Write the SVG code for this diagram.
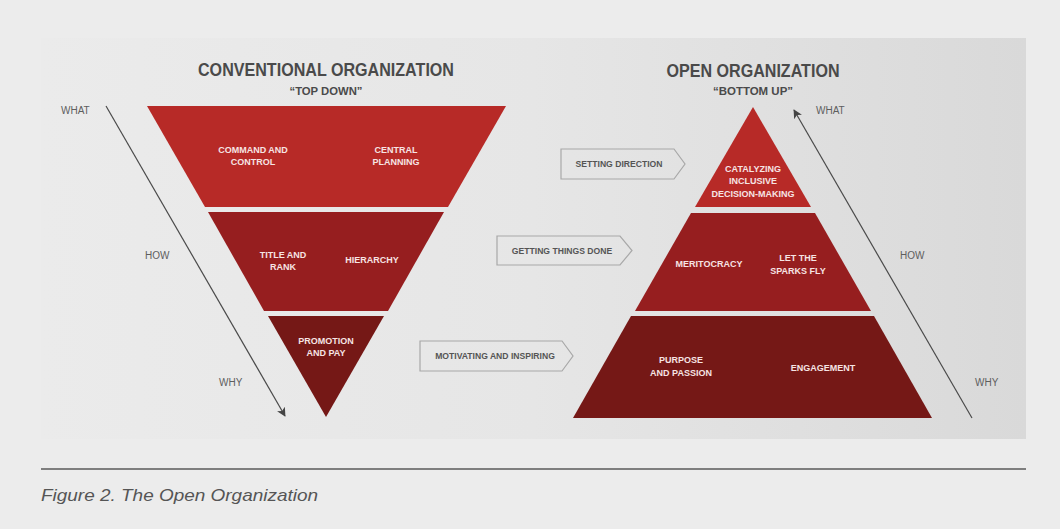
<svg xmlns="http://www.w3.org/2000/svg" width="1060" height="529" viewBox="0 0 1060 529">
<defs>
<linearGradient id="panel" x1="0" y1="0" x2="1" y2="0">
<stop offset="0" stop-color="#ebebeb"/>
<stop offset="0.5" stop-color="#e6e6e6"/>
<stop offset="1" stop-color="#d9d9d9"/>
</linearGradient>
<linearGradient id="div" x1="0" y1="0" x2="0" y2="1">
<stop offset="0" stop-color="#ffffff" stop-opacity="0"/>
<stop offset="0.5" stop-color="#ffffff" stop-opacity="0.55"/>
<stop offset="1" stop-color="#ffffff" stop-opacity="0"/>
</linearGradient>
<marker id="ah" viewBox="0 0 10 10" refX="9" refY="5" markerWidth="9" markerHeight="9" markerUnits="userSpaceOnUse" orient="auto">
<path d="M0,0 L10,5 L0,10 L2.5,5 Z" fill="#444"/>
</marker>
</defs>
<style>
.title{font-family:"Liberation Sans",Arial,sans-serif;font-weight:bold;fill:#4a4a4a;text-anchor:middle}
.sub{font-family:"Liberation Sans",Arial,sans-serif;font-weight:bold;fill:#4a4a4a;text-anchor:middle;font-size:11px}
.band{font-family:"Liberation Sans",Arial,sans-serif;font-weight:bold;fill:#f6e4e4;text-anchor:middle;font-size:9px}
.side{font-family:"Liberation Sans",Arial,sans-serif;fill:#5e5e5e;font-size:10px}
.tag{font-family:"Liberation Sans",Arial,sans-serif;font-weight:bold;fill:#555;text-anchor:middle;font-size:8.6px}
.box{fill:none;stroke:#a8a8a8;stroke-width:1.2}
.dv{stroke:url(#div);stroke-width:1.2}
.c1{fill:#b72a27}.c2{fill:#961e1f}.c3{fill:#751816}
.arr{stroke:#4a4a4a;stroke-width:1.2;fill:none}
</style>
<rect x="0" y="0" width="1060" height="529" fill="#ececec"/>
<rect x="41" y="38" width="985" height="401" fill="url(#panel)"/>

<g id="conventional-title">
<text class="title" x="326" y="76" font-size="18" textLength="256" lengthAdjust="spacingAndGlyphs">CONVENTIONAL ORGANIZATION</text>
<text class="sub" x="326" y="95" textLength="73" lengthAdjust="spacingAndGlyphs">“TOP DOWN”</text>
</g>
<g id="conv-top">
<polygon class="c1" points="147,106 506,106 448,207 205,207"/>
<line class="dv" x1="326.5" y1="126" x2="326.5" y2="198"/>
<text class="band" x="253" y="152.5">COMMAND AND</text>
<text class="band" x="253" y="164.5">CONTROL</text>
<text class="band" x="396" y="152.5">CENTRAL</text>
<text class="band" x="396" y="164.5">PLANNING</text>
</g>
<g id="conv-mid">
<polygon class="c2" points="208,212 444,212 388,311 264,311"/>
<line class="dv" x1="326.5" y1="230" x2="326.5" y2="302"/>
<text class="band" x="283" y="257.5">TITLE AND</text>
<text class="band" x="283" y="269.5">RANK</text>
<text class="band" x="372" y="262.5">HIERARCHY</text>
</g>
<g id="conv-bottom">
<polygon class="c3" points="268,316 384,316 326,417"/>
<text class="band" x="326" y="343.5">PROMOTION</text>
<text class="band" x="326" y="355.5">AND PAY</text>
</g>

<g id="open-title">
<text class="title" x="753" y="77" font-size="18" textLength="173" lengthAdjust="spacingAndGlyphs">OPEN ORGANIZATION</text>
<text class="sub" x="753" y="95" textLength="80" lengthAdjust="spacingAndGlyphs">“BOTTOM UP”</text>
</g>
<g id="open-top">
<polygon class="c1" points="753,107 811,207 695,207"/>
<text class="band" x="753" y="171.5">CATALYZING</text>
<text class="band" x="753" y="183.5">INCLUSIVE</text>
<text class="band" x="753" y="196.5">DECISION-MAKING</text>
</g>
<g id="open-mid">
<polygon class="c2" points="691,213 815,213 871,311 635,311"/>
<line class="dv" x1="753" y1="226" x2="753" y2="302"/>
<text class="band" x="709" y="266.5">MERITOCRACY</text>
<text class="band" x="798" y="260.5">LET THE</text>
<text class="band" x="798" y="273.5">SPARKS FLY</text>
</g>
<g id="open-bottom">
<polygon class="c3" points="631,316 874,316 932,418 573,418"/>
<line class="dv" x1="753" y1="328" x2="753" y2="408"/>
<text class="band" x="681" y="362.5">PURPOSE</text>
<text class="band" x="681" y="375.5">AND PASSION</text>
<text class="band" x="823" y="370.5">ENGAGEMENT</text>
</g>

<g id="tag-setting-direction">
<polygon class="box" points="561,149 674,149 685,164 674,179 561,179"/>
<text class="tag" x="619" y="167">SETTING DIRECTION</text>
</g>
<g id="tag-getting-things-done">
<polygon class="box" points="497,236 620,236 632,250.5 620,265 497,265"/>
<text class="tag" x="562" y="253.5">GETTING THINGS DONE</text>
</g>
<g id="tag-motivating">
<polygon class="box" points="420,341 562,341 573,356 562,371 420,371"/>
<text class="tag" x="495" y="359">MOTIVATING AND INSPIRING</text>
</g>

<g id="axis-labels">
<text class="side" x="61" y="114">WHAT</text>
<text class="side" x="145" y="259">HOW</text>
<text class="side" x="219" y="386">WHY</text>
<text class="side" x="816" y="114">WHAT</text>
<text class="side" x="900" y="259">HOW</text>
<text class="side" x="975" y="386">WHY</text>
</g>

<g id="connectors">
<line class="arr" x1="106" y1="106" x2="285" y2="416" marker-end="url(#ah)"/>
<line class="arr" x1="972" y1="418" x2="794" y2="110" marker-end="url(#ah)"/>
</g>

<g id="caption">
<line x1="41" y1="469" x2="1026" y2="469" stroke="#5a5a5a" stroke-width="1.3"/>
<text x="41" y="501" font-family="Liberation Sans,Arial,sans-serif" font-style="italic" font-size="17" fill="#555" textLength="277" lengthAdjust="spacingAndGlyphs">Figure 2. The Open Organization</text>
</g>
</svg>
